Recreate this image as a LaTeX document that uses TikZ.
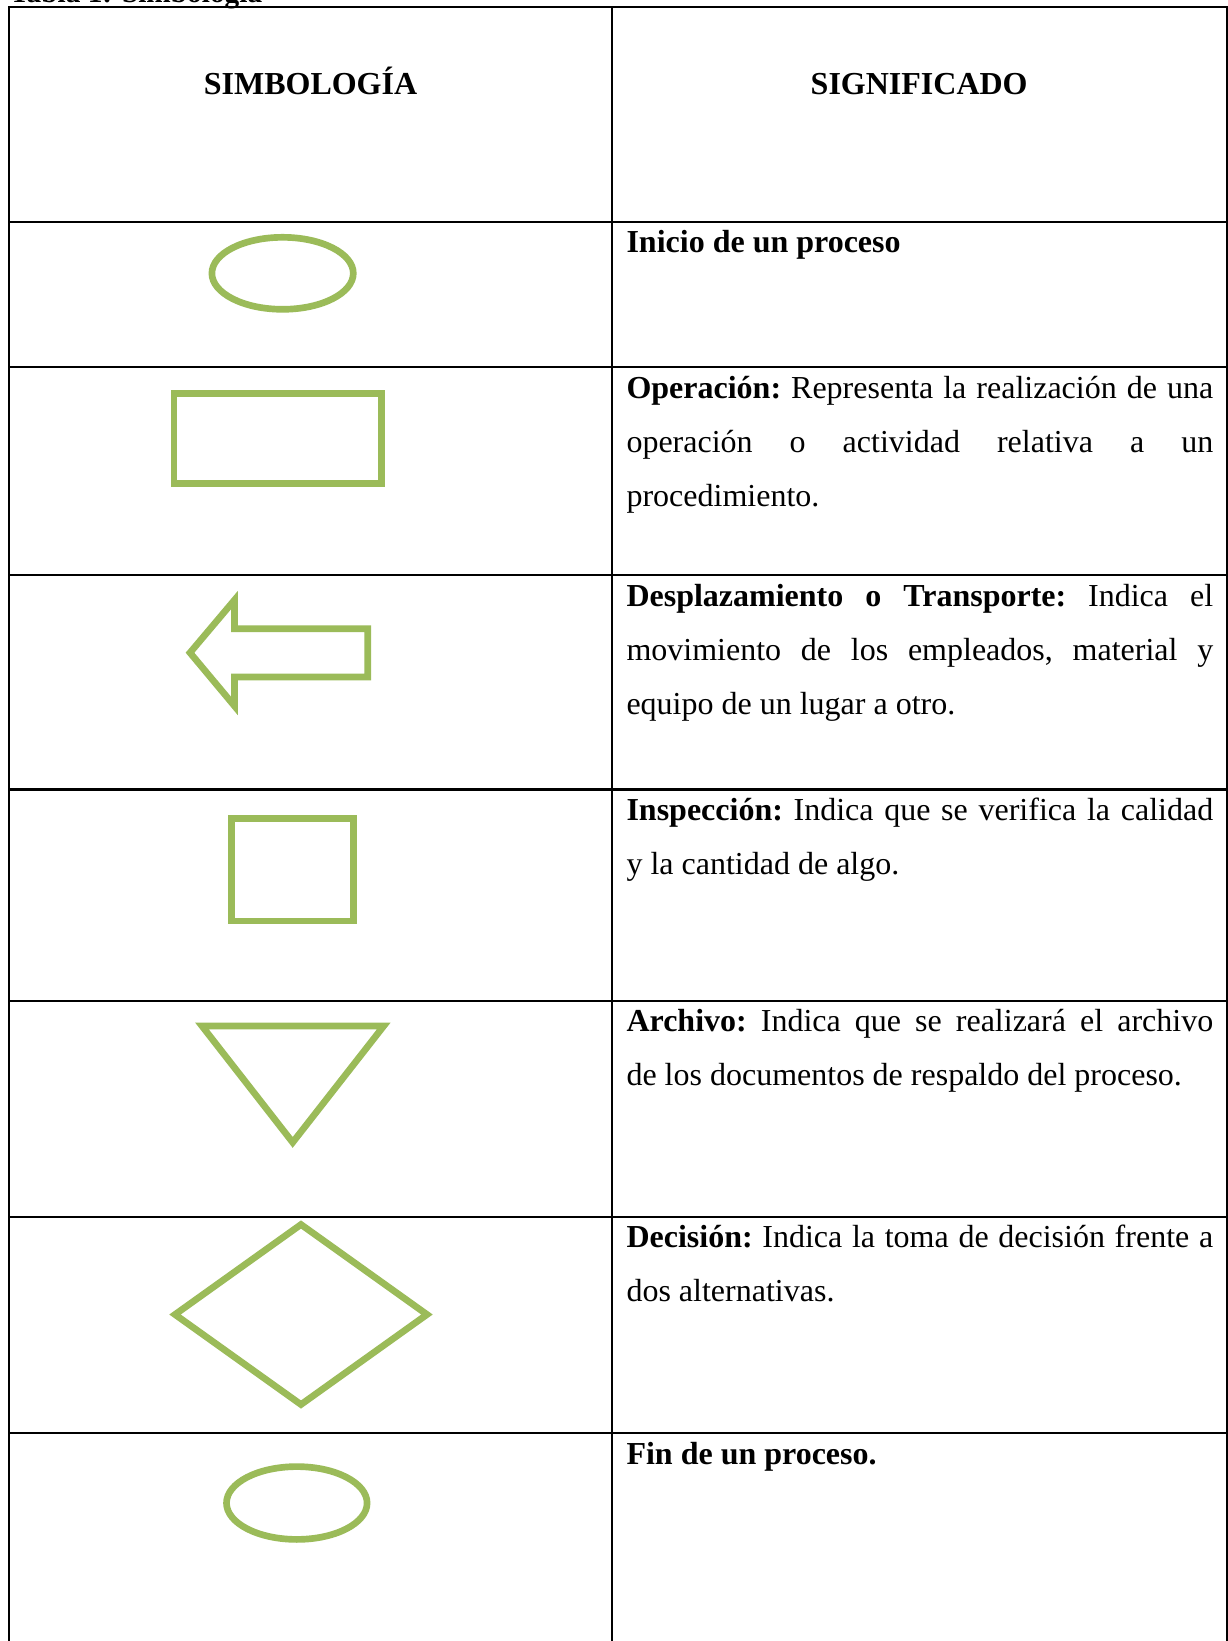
\documentclass[tikz,border=0pt]{standalone}
\usepackage{fontspec}
\setmainfont{Liberation Serif}
\definecolor{sgreen}{HTML}{9BBB59}
\newcommand\desctext[1]{\parbox[t]{220pt}{\fontsize{12pt}{20.25pt}\selectfont\frenchspacing\tolerance=9999\hyphenpenalty=10000\exhyphenpenalty=10000 #1}}
\begin{document}
\begin{tikzpicture}[x=0.375pt,y=-0.375pt,
  gridline/.style={line width=0.8pt, black},
  sym/.style={draw=sgreen, line width=2.5pt, line join=miter},
  hdr/.style={font=\fontsize{12pt}{14pt}\selectfont\bfseries, anchor=base, inner sep=0pt},
  desc/.style={anchor=base west, inner sep=0pt}]
\useasboundingbox (0,0) rectangle (1228,1641);
\clip (0,0) rectangle (1228,1641);
\fill[white] (0,0) rectangle (1228,1641);

% caption (cut off at top, as in the reference)
\node[anchor=base west, inner sep=0pt, font=\fontsize{11pt}{13pt}\selectfont\bfseries] (cap) at (9.3,2.5) {Tabla 1: Simbología};

% table grid
\draw[gridline] (9.3,1645) -- (9.3,6.7) -- (1226.7,6.7) -- (1226.7,1645);
\draw[gridline] (611.7,6.7) -- (611.7,1645);
\foreach \yy in {221.7,367.3,575,789.5,1000.7,1216.7,1433}
  \draw[gridline] (9.3,\yy) -- (1226.7,\yy);

% headers
\node[hdr] (h1) at (310.5,94) {SIMBOLOGÍA};
\node[hdr] (h2) at (919.2,94) {SIGNIFICADO};

% symbols
\draw[sym] (282.6,273.3) ellipse [x radius=70.7, y radius=36];
\draw[sym] (173.9,393.5) rectangle (381.5,483.2);
\draw[sym] (190,652.7) -- (234.5,600) -- (234.5,628.7) -- (367.7,628.7)
  -- (367.7,677) -- (234.5,677) -- (234.5,706) -- cycle;
\draw[sym] (231.6,818.7) rectangle (353.7,921);
\draw[sym] (202,1026) -- (383.7,1026) -- (292.7,1142.4) -- cycle;
\draw[sym] (301,1224.5) -- (427,1314.5) -- (301,1404.5) -- (175,1314.5) -- cycle;
\draw[sym] (296.8,1503) ellipse [x radius=70.3, y radius=36.4];

% descriptions
\node[desc] (d1) at (626,252.7) {\desctext{\textbf{Inicio de un proceso}}};
\node[desc] (d2) at (626,398) {\desctext{\textbf{Operación:} Representa la realización de una\linebreak operación o actividad relativa a un\linebreak procedimiento.}};
\node[desc] (d3) at (626,606) {\desctext{\textbf{Desplazamiento o Transporte:} Indica el\linebreak movimiento de los empleados, material y\linebreak equipo de un lugar a otro.}};
\node[desc] (d4) at (626,820.5) {\desctext{\textbf{Inspección:} Indica que se verifica la calidad\linebreak y la cantidad de algo.}};
\node[desc] (d5) at (626,1031.7) {\desctext{\textbf{Archivo:} Indica que se realizará el archivo\linebreak de los documentos de respaldo del proceso.}};
\node[desc] (d6) at (626,1247.7) {\desctext{\textbf{Decisión:} Indica la toma de decisión frente a\linebreak dos alternativas.}};
\node[desc] (d7) at (626,1464) {\desctext{\textbf{Fin de un proceso.}}};
\end{tikzpicture}
\end{document}
